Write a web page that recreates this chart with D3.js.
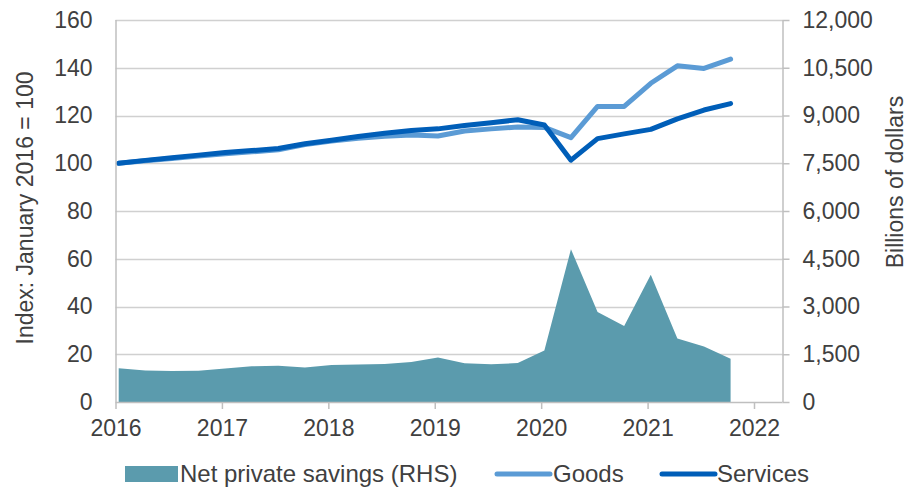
<!DOCTYPE html>
<html>
<head>
<meta charset="utf-8">
<script src="https://cdn.jsdelivr.net/npm/d3@7"></script>
<style>
  body { margin: 0; background: #fff; }
  text { font-family: "Liberation Sans", Arial, sans-serif; fill: #404040; }
</style>
</head>
<body>
<script>
const width = 908;
const height = 488;

// quarterly observations, 2016Q1 .. 2021Q4
const quarters = [
    '2016Q1', '2016Q2', '2016Q3', '2016Q4',
    '2017Q1', '2017Q2', '2017Q3', '2017Q4',
    '2018Q1', '2018Q2', '2018Q3', '2018Q4',
    '2019Q1', '2019Q2', '2019Q3', '2019Q4',
    '2020Q1', '2020Q2', '2020Q3', '2020Q4',
    '2021Q1', '2021Q2', '2021Q3', '2021Q4'
];

// index, January 2016 = 100
const goods = [
    100, 101.0, 102.0, 103.0, 104.0, 104.8, 105.6, 107.8,
    109.3, 110.5, 111.3, 111.8, 111.4, 113.5, 114.4, 115.2,
    115.0, 110.7, 123.8, 123.8, 133.5, 140.8, 139.7, 143.6
];
const services = [
    100, 101.2, 102.3, 103.4, 104.5, 105.3, 106.2, 108.2,
    109.6, 111.2, 112.6, 113.7, 114.4, 115.8, 117.0, 118.2,
    116.0, 101.3, 110.3, 112.3, 114.2, 118.6, 122.3, 125.0
];

// billions of dollars (RHS)
const savings = [
    1060, 990, 975, 985, 1050, 1120, 1135, 1080,
    1165, 1175, 1195, 1260, 1395, 1215, 1185, 1225,
    1615, 4800, 2830, 2390, 4000, 1995, 1740, 1355
];

const leftTicks = d3.range(0, 161, 20);
const rightTicks = d3.range(0, 12001, 1500);
const yearTicks = d3.range(2016, 2023);

const toYear = q => +q.slice(0, 4) + (+q.slice(5) - 1) / 4 + 0.03;

const rows = quarters.map((q, i) => ({
    t: toYear(q),
    goods: goods[i],
    services: services[i],
    savings: savings[i]
}));

const plot = { left: 115.5, right: 782.5, top: 20, bottom: 402 };
const fontSize = '23px';
const legendSize = '24px';

const x = d3.scaleLinear()
    .domain([2016, 2022])
    .range([plot.left, 754]);
const yL = d3.scaleLinear().domain([0, 160]).range([plot.bottom, plot.top]);
const yR = d3.scaleLinear().domain([0, 12000]).range([plot.bottom, plot.top]);

const svg = d3.select('body')
    .append('svg')
    .attr('width', width)
    .attr('height', height);

const axisColor = '#bfbfbf';
const gridColor = '#d0d0d0';

// gridlines
svg.append('g')
    .selectAll('line')
    .data(leftTicks.slice(1))
    .enter()
    .append('line')
    .attr('x1', plot.left)
    .attr('x2', plot.right)
    .attr('y1', d => Math.round(yL(d)) + 0.5)
    .attr('y2', d => Math.round(yL(d)) + 0.5)
    .attr('stroke', gridColor)
    .attr('stroke-width', 1.3);

// savings area
svg.append('path')
    .datum(rows)
    .attr('fill', '#5b9bad')
    .attr('d', d3.area()
        .x(d => x(d.t))
        .y0(yR(0))
        .y1(d => yR(d.savings)));

const line = key => d3.line()
    .x(d => x(d.t))
    .y(d => yL(d[key]));

svg.append('path')
    .datum(rows)
    .attr('fill', 'none')
    .attr('stroke', '#5b9bd5')
    .attr('stroke-width', 5)
    .attr('stroke-linejoin', 'round')
    .attr('stroke-linecap', 'round')
    .attr('d', line('goods'));

svg.append('path')
    .datum(rows)
    .attr('fill', 'none')
    .attr('stroke', '#005eb8')
    .attr('stroke-width', 5)
    .attr('stroke-linejoin', 'round')
    .attr('stroke-linecap', 'round')
    .attr('d', line('services'));

// left axis
const gL = svg.append('g')
    .attr('transform', `translate(${plot.left},0)`)
    .call(d3.axisLeft(yL).tickValues(leftTicks).tickSize(0).tickPadding(23));

// right axis
const gR = svg.append('g')
    .attr('transform', `translate(${plot.right},0)`)
    .call(d3.axisRight(yR).tickValues(rightTicks).tickSize(7).tickPadding(13)
        .tickFormat(d3.format(',')));

// bottom axis
const gB = svg.append('g')
    .attr('transform', `translate(0,${plot.bottom})`)
    .call(d3.axisBottom(x).tickValues(yearTicks).tickSize(7).tickPadding(11)
        .tickFormat(d3.format('d')));
gB.select('.domain').attr('d', `M${plot.left},0.5H${plot.right}`);

[gL, gR, gB].forEach(g => {
    g.select('.domain').attr('stroke', axisColor).attr('stroke-width', 1.5);
    g.selectAll('.tick line').attr('stroke', axisColor).attr('stroke-width', 1.5);
    g.selectAll('.tick text')
        .style('font-size', fontSize)
        .style('font-family', '"Liberation Sans", Arial, sans-serif')
        .attr('fill', '#404040');
});
gL.select('.domain').attr('d', `M0.5,${plot.top}V${plot.bottom}`);
gR.select('.domain').attr('d', `M0.5,${plot.top}V${plot.bottom}`);

// axis titles
svg.append('text')
    .attr('transform', `translate(33,208) rotate(-90)`)
    .attr('text-anchor', 'middle')
    .style('font-size', fontSize)
    .text('Index: January 2016 = 100');

svg.append('text')
    .attr('transform', `translate(903,182) rotate(-90)`)
    .attr('text-anchor', 'middle')
    .style('font-size', fontSize)
    .text('Billions of dollars');

// legend
const legend = svg.append('g').attr('transform', 'translate(0,474)');

legend.append('rect')
    .attr('x', 125).attr('y', -8)
    .attr('width', 53).attr('height', 16)
    .attr('fill', '#5b9bad');
legend.append('text').attr('x', 180).attr('y', 8)
    .style('font-size', legendSize).text('Net private savings (RHS)');

legend.append('line')
    .attr('x1', 497).attr('x2', 550)
    .attr('stroke', '#5b9bd5').attr('stroke-width', 5).attr('stroke-linecap', 'round');
legend.append('text').attr('x', 553).attr('y', 8)
    .style('font-size', legendSize).text('Goods');

legend.append('line')
    .attr('x1', 662).attr('x2', 715)
    .attr('stroke', '#005eb8').attr('stroke-width', 5).attr('stroke-linecap', 'round');
legend.append('text').attr('x', 717).attr('y', 8)
    .style('font-size', legendSize).text('Services');
</script>
</body>
</html>
